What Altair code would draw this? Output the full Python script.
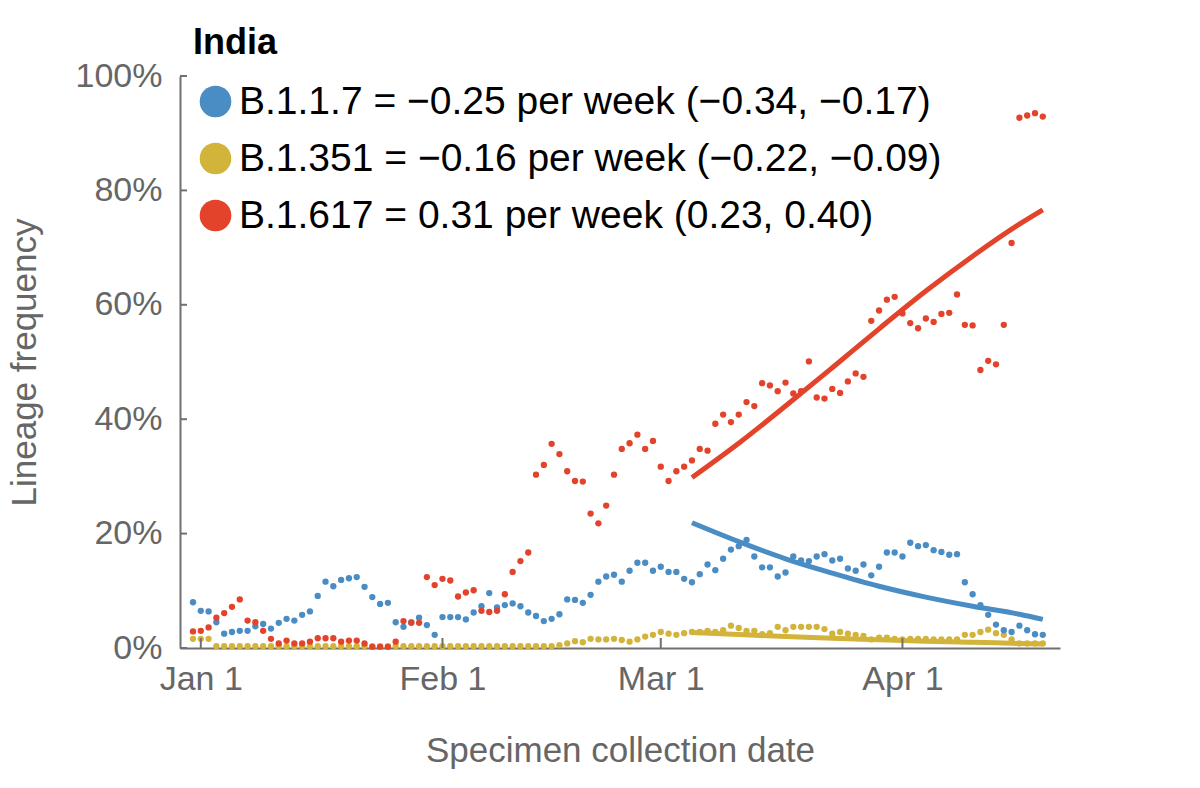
import altair as alt
import pandas as pd

# ---- data ----
first_day = "2020-12-31"

blue = [8.0, 6.5, 6.4, 4.5, 2.5, 2.8, 3.0, 3.0, 3.8, 4.2,
        3.4, 4.4, 5.1, 4.8, 5.8, 6.4, 9.1, 11.6, 10.8, 11.9,
        12.2, 12.4, 10.7, 8.9, 7.7, 7.9, 4.5, 3.7, 4.5, 5.3,
        4.0, 2.3, 5.4, 5.4, 5.4, 5.0, 6.2, 7.3, 9.6, 7.1,
        7.5, 7.8, 7.3, 6.2, 5.6, 4.7, 5.1, 5.9, 8.5, 8.4,
        7.9, 9.3, 11.6, 12.5, 12.8, 11.6, 13.5, 14.9, 14.9, 13.5,
        14.2, 13.3, 13.3, 12.1, 11.5, 12.9, 14.6, 13.6, 15.6, 17.2,
        17.8, 18.9, 16.0, 14.1, 14.1, 12.5, 13.2, 16.0, 15.3, 15.2,
        16.0, 16.4, 15.3, 15.6, 13.9, 13.5, 14.6, 12.7, 14.2, 16.7,
        16.7, 16.0, 18.4, 17.8, 18.0, 17.1, 16.8, 16.3, 16.4, 11.5,
        9.4, 7.5, 5.8, 4.1, 3.1, 2.8, 3.9, 3.1, 2.4, 2.3]

yellow = [1.6, 1.6, 1.6, 0.3, 0.3, 0.3, 0.3, 0.3, 0.3, 0.3,
          0.3, 0.3, 0.3, 0.3, 0.3, 0.3, 0.3, 0.3, 0.3, 0.3,
          0.3, 0.3, 0.3, 0.3, 0.3, 0.3, 0.3, 0.3, 0.3, 0.3,
          0.3, 0.3, 0.3, 0.3, 0.3, 0.3, 0.3, 0.3, 0.3, 0.3,
          0.3, 0.3, 0.3, 0.3, 0.3, 0.3, 0.3, 0.5, 0.8, 1.2,
          1.0, 1.6, 1.5, 1.5, 1.6, 1.4, 1.1, 1.5, 2.0, 2.3,
          2.8, 2.5, 2.3, 2.6, 2.8, 2.8, 3.0, 2.8, 3.1, 3.9,
          3.5, 3.0, 3.0, 2.4, 2.6, 3.7, 3.1, 3.7, 3.7, 3.7,
          3.7, 3.3, 2.5, 2.8, 2.5, 2.3, 2.1, 1.5, 1.8, 1.8,
          1.6, 1.5, 1.6, 1.6, 1.6, 1.5, 1.5, 1.5, 1.5, 2.3,
          2.3, 2.8, 3.2, 2.6, 2.3, 1.5, 0.8, 0.8, 0.8, 0.8]

red = [2.9, 3.0, 3.6, 5.3, 6.1, 7.2, 8.5, 4.8, 4.5, 3.0,
       1.6, 0.8, 1.3, 0.8, 0.8, 1.1, 1.7, 1.7, 1.7, 1.1,
       1.3, 1.3, 0.8, 0.2, 0.2, 0.2, 1.1, 4.7, 4.4, 4.4,
       12.4, 11.0, 12.1, 11.8, 9.0, 9.7, 10.1, 6.5, 6.3, 6.5,
       9.4, 13.3, 15.2, 16.7, 30.3, 32.0, 35.7, 33.9, 30.9, 29.2,
       29.1, 23.5, 21.8, 24.9, 30.3, 34.8, 35.8, 37.3, 34.8, 36.2,
       31.7, 29.2, 30.9, 31.7, 32.8, 34.8, 34.5, 39.2, 40.8, 39.5,
       40.8, 43.0, 42.3, 46.3, 45.9, 44.9, 46.4, 44.5, 44.9, 50.1,
       43.8, 43.6, 45.3, 44.6, 46.6, 48.0, 47.4, 57.2, 59.0, 60.9,
       61.4, 58.5, 56.8, 55.9, 57.6, 57.0, 58.4, 58.6, 61.8, 56.5,
       56.4, 48.6, 50.2, 49.6, 56.5, 70.8, 92.7, 93.1, 93.5, 92.9]

fit_dates = ["2021-03-05", "2021-03-11", "2021-03-17", "2021-03-23", "2021-03-29",
             "2021-04-04", "2021-04-10", "2021-04-16", "2021-04-19"]
blue_fit = [21.9, 18.6, 15.6, 13.1, 10.8, 8.9, 7.3, 5.9, 5.0]
yellow_fit = [2.7, 2.35, 2.0, 1.7, 1.45, 1.2, 1.0, 0.8, 0.7]
red_fit = [29.8, 35.8, 42.3, 49.0, 55.8, 62.4, 68.5, 74.1, 76.6]

labels = ["B.1.1.7 = \u22120.25 per week (\u22120.34, \u22120.17)",
          "B.1.351 = \u22120.16 per week (\u22120.22, \u22120.09)",
          "B.1.617 = 0.31 per week (0.23, 0.40)"]
colors = ["#4a8cc4", "#d3b43b", "#e2432a"]

x_tick_dates = ["2021-01-01", "2021-02-01", "2021-03-01", "2021-04-01"]
y_tick_values = [0, 20, 40, 60, 80, 100]

# ---- tables ----
dates = pd.date_range(first_day, periods=len(blue), freq="D").strftime("%Y-%m-%dT00:00:00")
frames = []
for lab, vals in [(labels[1], yellow), (labels[0], blue), (labels[2], red)]:
    frames.append(pd.DataFrame({"date": list(dates), "value": vals, "label": lab}))
pts = pd.concat(frames, ignore_index=True)

fit_frames = []
for lab, vals in [(labels[1], yellow_fit), (labels[0], blue_fit), (labels[2], red_fit)]:
    fit_frames.append(pd.DataFrame({"date": [d + "T00:00:00" for d in fit_dates],
                                    "value": vals, "label": lab}))
fits = pd.concat(fit_frames, ignore_index=True)

xticks_df = pd.DataFrame({"date": [d + "T00:00:00" for d in x_tick_dates]})
yticks_df = pd.DataFrame({"value": y_tick_values})

FONT = "Liberation Sans"
GRAY = "#666666"
AXIS_GRAY = "#707070"

x_scale = alt.Scale(domain=[alt.DateTime(year=2020, month=12, date=29, hours=8),
                            alt.DateTime(year=2021, month=4, date=21, hours=5)])
y_scale = alt.Scale(domain=[0, 100], nice=False)
color_scale = alt.Scale(domain=labels, range=colors)

x_axis = alt.Axis(values=[alt.DateTime(year=2021, month=m, date=1) for m in [1, 2, 3, 4]],
                  format="%b %-d", title="Specimen collection date",
                  labelPadding=14, titlePadding=37)
y_axis = alt.Axis(values=y_tick_values, labelExpr="datum.value + '%'",
                  title="Lineage frequency", labelPadding=18, titlePadding=33)

X = alt.X("date:T", scale=x_scale, axis=x_axis)
Y = alt.Y("value:Q", scale=y_scale, axis=y_axis)

points = alt.Chart(pts).mark_circle(size=40, opacity=1).encode(
    x=X, y=Y,
    color=alt.Color("label:N", scale=color_scale, legend=alt.Legend(
        title="India", orient="none", legendX=13, legendY=-50,
        titleFontSize=36, titleFontWeight="bold", titleColor="black", titleFont=FONT,
        titlePadding=20, labelFontSize=39, labelColor="black", labelFont=FONT,
        labelLimit=2000, labelOffset=4, symbolSize=1000, symbolType="circle",
        symbolOffset=3, symbolStrokeWidth=0, rowPadding=17, padding=0,
        symbolOpacity=1)),
)

lines = alt.Chart(fits).mark_line(strokeWidth=5, interpolate="monotone").encode(
    x=X, y=Y,
    color=alt.Color("label:N", scale=color_scale, legend=None),
    detail="label:N",
)

xticks = alt.Chart(xticks_df).mark_rule(color=AXIS_GRAY, strokeWidth=2).encode(
    x=X, y=alt.value(572), y2=alt.value(562),
)
yticks = alt.Chart(yticks_df).mark_rule(color=AXIS_GRAY, strokeWidth=2).encode(
    y=Y, x=alt.value(0), x2=alt.value(7),
)

chart = alt.layer(points, lines, xticks, yticks).properties(
    width=880, height=572,
    autosize=alt.AutoSizeParams(type="none"),
    padding={"left": 180, "top": 76, "right": 140, "bottom": 140},
).configure_view(stroke=None).configure_axis(
    grid=False, ticks=False, domainColor=AXIS_GRAY, domainWidth=2,
    labelFont=FONT, labelFontSize=34, labelColor=GRAY,
    titleFont=FONT, titleFontSize=35, titleColor=GRAY, titleFontWeight="normal",
)

chart.save("out.html", embed_options={"renderer": "svg", "actions": False})
